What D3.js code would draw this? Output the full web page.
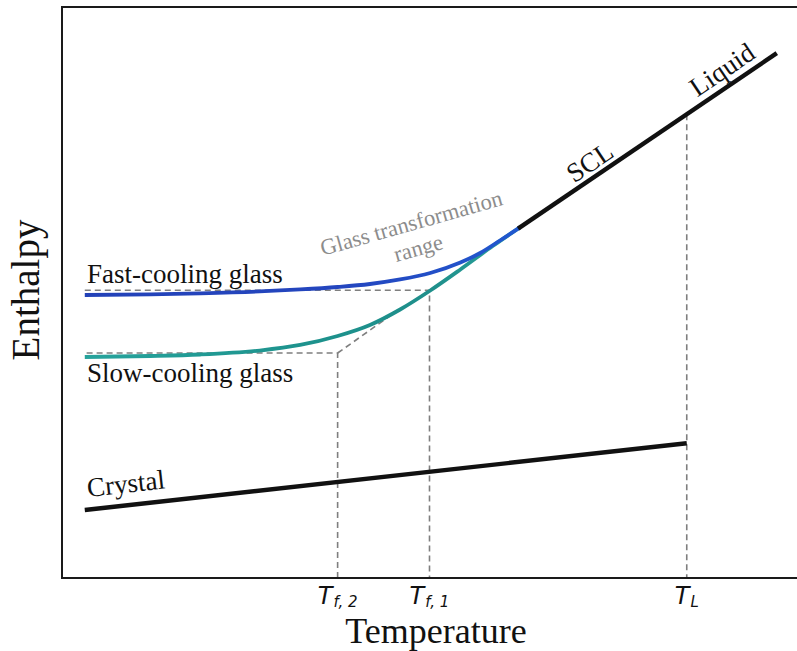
<!DOCTYPE html>
<html>
<head>
<meta charset="utf-8">
<script src="https://cdn.jsdelivr.net/npm/d3@7"></script>
<style>
  html, body { margin: 0; padding: 0; background: #fff; }
  svg { display: block; }
</style>
</head>
<body>
<svg id="chart" width="797" height="651"></svg>
<script>
// Enthalpy–temperature diagram for glass formation (arbitrary units, 0–100 on both axes)

// Liquid / supercooled-liquid line
const liquidLine = [[62.3, 61.4], [97.0, 91.7]];

// Fast-cooling glass: departs from the SCL early and freezes in at a higher enthalpy
const fastGlass = [
  [3.1, 49.56], [12.0, 49.68], [18.8, 49.86], [26.9, 50.18], [32.4, 50.53],
  [37.5, 50.96], [41.9, 51.49], [46.0, 52.28], [50.1, 53.42], [54.2, 55.25],
  [56.9, 56.92], [59.6, 59.11], [62.3, 61.4]
];

// Slow-cooling glass: follows the SCL further down before freezing in
const slowGlass = [
  [3.1, 38.70], [12.0, 38.88], [18.8, 39.14], [26.9, 39.84], [32.4, 40.81],
  [37.5, 42.38], [41.9, 44.31], [46.0, 47.02], [50.1, 50.35], [54.2, 54.03],
  [58.6, 58.14], [62.3, 61.4]
];

// Crystal line, up to the melting point
const crystalLine = [[3.1, 11.9], [85.0, 23.6]];

// Characteristic temperatures on the x axis: symbol and subscript
const tickTemps = [37.5, 50.0, 85.0];
const tickNames = [["T", "f, 2"], ["T", "f, 1"], ["T", "L"]];

// Construction lines (dashed)
const fastFreeze = [[3.1, 50.4], [50.0, 50.4], [50.0, 0]];
const slowFreeze = [[37.5, 0], [37.5, 39.4], [3.1, 39.4]];
const slowExtrap = [[37.5, 39.4], [45.3, 46.5]];
const meltDrop   = [[85.0, 81.2], [85.0, 0]];

const svg = d3.select("#chart");
const plotLeft = 62, plotRight = 797, plotTop = 7, plotBottom = 578;

const x = d3.scaleLinear().domain([0, 100]).range([plotLeft, plotRight]);
const y = d3.scaleLinear().domain([0, 100]).range([plotBottom, plotTop]);

const serif = "'Liberation Serif', 'Times New Roman', serif";
const sans = "'DejaVu Sans', sans-serif";

// Colour gradients along the glass curves
const defs = svg.append("defs");
function gradient(id, stops) {
  const g = defs.append("linearGradient")
    .attr("id", id).attr("gradientUnits", "userSpaceOnUse")
    .attr("x1", x(3)).attr("x2", x(62.3)).attr("y1", 0).attr("y2", 0);
  stops.forEach(([o, c]) => g.append("stop").attr("offset", o).attr("stop-color", c));
}
gradient("fastGrad", [[0, "#2342b8"], [0.6, "#2446bf"], [1, "#2158cf"]]);
gradient("slowGrad", [[0, "#26a39c"], [0.55, "#1d918c"], [0.8, "#1f8f8b"], [1, "#2aa39c"]]);

const straight = d3.line().x(d => x(d[0])).y(d => y(d[1]));
const smooth = d3.line().x(d => x(d[0])).y(d => y(d[1])).curve(d3.curveMonotoneX);

// Dashed construction lines
const dashG = svg.append("g")
  .attr("fill", "none").attr("stroke", "#7f7f7f")
  .attr("stroke-width", 1.6).attr("stroke-dasharray", "6,4");
[fastFreeze, slowFreeze, slowExtrap, meltDrop].forEach(d =>
  dashG.append("path").attr("d", straight(d)));

// Glass curves
svg.append("path").attr("d", smooth(slowGlass))
  .attr("fill", "none").attr("stroke", "url(#slowGrad)").attr("stroke-width", 3.8);
svg.append("path").attr("d", smooth(fastGlass))
  .attr("fill", "none").attr("stroke", "url(#fastGrad)").attr("stroke-width", 3.8);

// Liquid and crystal lines
svg.append("path").attr("d", straight(liquidLine))
  .attr("fill", "none").attr("stroke", "#111").attr("stroke-width", 4.4).attr("stroke-linecap", "square");
svg.append("path").attr("d", straight(crystalLine))
  .attr("fill", "none").attr("stroke", "#111").attr("stroke-width", 4.4);

// Frame (left, top, bottom spines)
svg.append("path")
  .attr("d", `M${plotRight + 5},${plotTop} H${plotLeft} V${plotBottom} H${plotRight + 5}`)
  .attr("fill", "none").attr("stroke", "#1a1a1a").attr("stroke-width", 2);

// x tick labels: italic symbol followed by a smaller, lowered subscript, centred on the tick
const tickG = svg.append("g").attr("font-family", sans).attr("fill", "#111");
tickTemps.forEach((t, i) => {
  const [main, sub] = tickNames[i];
  const g = tickG.append("g");
  const m = g.append("text").attr("font-size", 24).attr("font-style", "italic")
    .attr("x", 0).attr("y", 604).text(main);
  const mw = m.node().getComputedTextLength();
  const s = g.append("text").attr("font-size", 15).attr("font-style", "italic")
    .attr("x", mw + 1).attr("y", 607).text(sub);
  const total = mw + 1 + s.node().getComputedTextLength();
  g.attr("transform", `translate(${x(t) - total / 2},0)`);
});

// Axis titles
svg.append("text")
  .attr("x", 436).attr("y", 643)
  .attr("text-anchor", "middle").attr("font-family", serif).attr("font-size", 36)
  .attr("fill", "#111").text("Temperature");
svg.append("text")
  .attr("transform", "translate(39,290) rotate(-90)")
  .attr("text-anchor", "middle").attr("font-family", serif).attr("font-size", 39)
  .attr("fill", "#111").text("Enthalpy");

// Curve labels
function label(txt, px, py, angle, anchor, size, color) {
  return svg.append("text")
    .attr("transform", `translate(${px},${py}) rotate(${angle})`)
    .attr("text-anchor", anchor).attr("font-family", serif)
    .attr("font-size", size).attr("fill", color).text(txt);
}
label("Fast-cooling glass", x(3.4), y(51.7), 0, "start", 27, "#111");
label("Slow-cooling glass", x(3.4), y(34.3), 0, "start", 27, "#111");
label("Crystal", x(3.55), y(14.2), -6.4, "start", 27, "#111");
label("SCL", x(72.5), y(71.5), -34.1, "middle", 27, "#111");
label("Liquid", x(90.5), y(87.7), -34.1, "middle", 27, "#111");

const gtr = svg.append("text")
  .attr("transform", `translate(${x(47.8)},${y(60.9)}) rotate(-15.8)`)
  .attr("text-anchor", "middle").attr("font-family", serif)
  .attr("font-size", 22.5).attr("fill", "#8c8c8c");
gtr.append("tspan").attr("x", 0).attr("dy", 0).text("Glass transformation");
gtr.append("tspan").attr("x", 0).attr("dy", 26).text("range");
</script>
</body>
</html>
